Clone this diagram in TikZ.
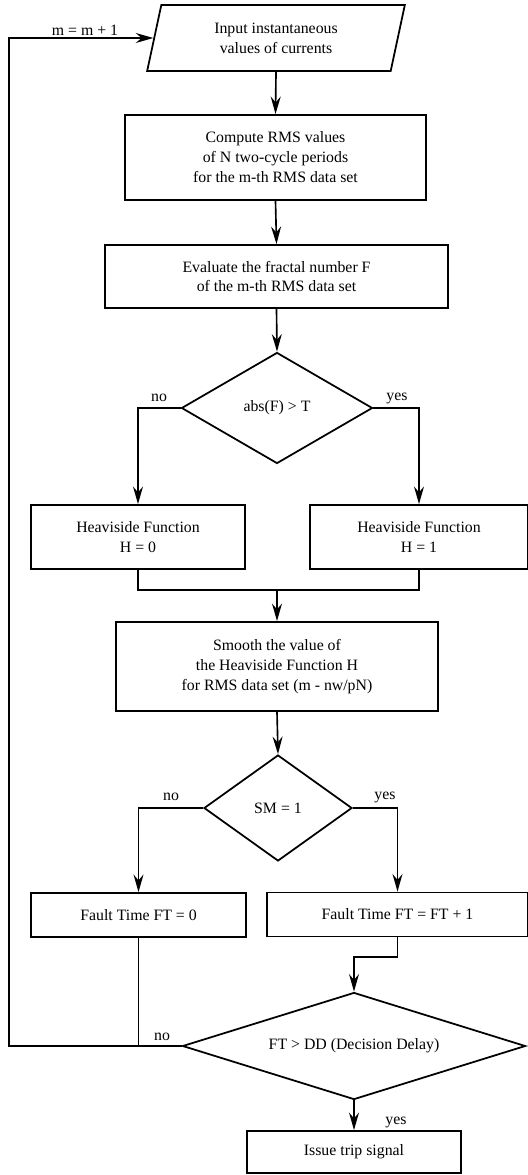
\documentclass[tikz,border=0pt]{standalone}
\usepackage{fontspec}
\setmainfont{Liberation Serif}
\usetikzlibrary{shapes.geometric,arrows.meta}

\begin{document}
\begin{tikzpicture}[x=0.03cm,y=-0.03cm,
    every node/.style={font=\fontsize{13.5}{17}\selectfont},
    proc/.style={draw,rectangle,line width=1.5pt,align=center,inner sep=0pt},
    cond/.style={draw,diamond,line width=1.5pt,align=center,inner sep=0pt},
    flow/.style={line width=1.4pt,-{Stealth[length=15pt,width=8.5pt,inset=5pt]}},
    wire/.style={line width=1.4pt}]
  \useasboundingbox (0,0) rectangle (527,1175);

  % main column
  \node[draw,trapezium,trapezium left angle=76,trapezium right angle=104,
        trapezium stretches=true,line width=1.5pt,align=center,inner sep=0pt,
        minimum width=7.74cm,minimum height=1.98cm] (input) at (276,38)
        {Input instantaneous\\values of currents};
  \node[proc,minimum width=9.03cm,minimum height=2.55cm] (comp) at (275.5,157.5)
        {Compute RMS values\\of N two-cycle periods\\for the m-th RMS data set};
  \node[proc,minimum width=10.29cm,minimum height=1.89cm] (eval) at (276.5,276.5)
        {Evaluate the fractal number F\\of the m-th RMS data set};
  \node[cond,aspect=1.72,minimum width=5.73cm,minimum height=3.33cm] (d1) at (277,408)
        {abs(F) > T};

  \node[proc,minimum width=6.42cm,minimum height=1.92cm] (h0) at (138,537)
        {Heaviside Function\\H = 0};
  \node[proc,minimum width=6.54cm,minimum height=1.92cm] (h1) at (419,537)
        {Heaviside Function\\H = 1};

  \node[proc,minimum width=9.66cm,minimum height=2.67cm] (smooth) at (277,666.5)
        {Smooth the value of\\the Heaviside Function H\\for RMS data set (m - nw/pN)};
  \node[cond,aspect=1.4,minimum width=4.44cm,minimum height=3.18cm] (d2) at (278,808)
        {SM = 1};

  \node[proc,minimum width=6.45cm,minimum height=1.32cm] (ft0) at (138.5,915)
        {Fault Time FT = 0};
  \node[proc,minimum width=7.83cm,minimum height=1.32cm] (ft1) at (397.5,914.5)
        {Fault Time FT = FT + 1};

  \node[cond,aspect=3.2,minimum width=10.29cm,minimum height=3.21cm] (d3) at (354,1046)
        {FT > DD (Decision Delay)};
  \node[proc,minimum width=6.42cm,minimum height=1.26cm] (trip) at (354,1152)
        {Issue trip signal};

  % helper points
  \coordinate (mrg) at (277,590);
  \coordinate (jog) at (0,957);
  \coordinate (lp) at (9,0);

  % connectors
  \draw[flow] (input.south) -- (comp.north);
  \draw[flow] (comp.south) -- (eval.north);
  \draw[flow] (eval.south) -- (d1.north);
  \draw[flow] (d1.west) -| (h0.north);
  \draw[flow] (d1.east) -| (h1.north);
  \draw[wire] (h0.south) -- (h0.south |- mrg) -- (h1.south |- mrg) -- (h1.south);
  \draw[flow] (mrg) -- (smooth.north);
  \draw[flow] (smooth.south) -- (d2.north);
  \draw[flow] (d2.west) -| (ft0.north);
  \draw[flow] (d2.east) -| (ft1.north);
  \draw[flow] (ft1.south) -- (ft1.south |- jog) -| (d3.north);
  \draw[wire] (ft0.south) -- (ft0.south |- d3.west);
  \draw[flow] (d3.west) -- (d3.west -| lp) |- (input);
  \draw[flow] (d3.south) -- (trip.north);

  % labels
  \node (lm) at (85,30) {m = m + 1};
  \node (ln1) at (159,398) {no};
  \node (ly1) at (397,398) {yes};
  \node (ln2) at (171,797) {no};
  \node (ly2) at (385,797) {yes};
  \node (ln3) at (162,1037) {no};
  \node (ly3) at (396,1122) {yes};
\end{tikzpicture}
\end{document}
